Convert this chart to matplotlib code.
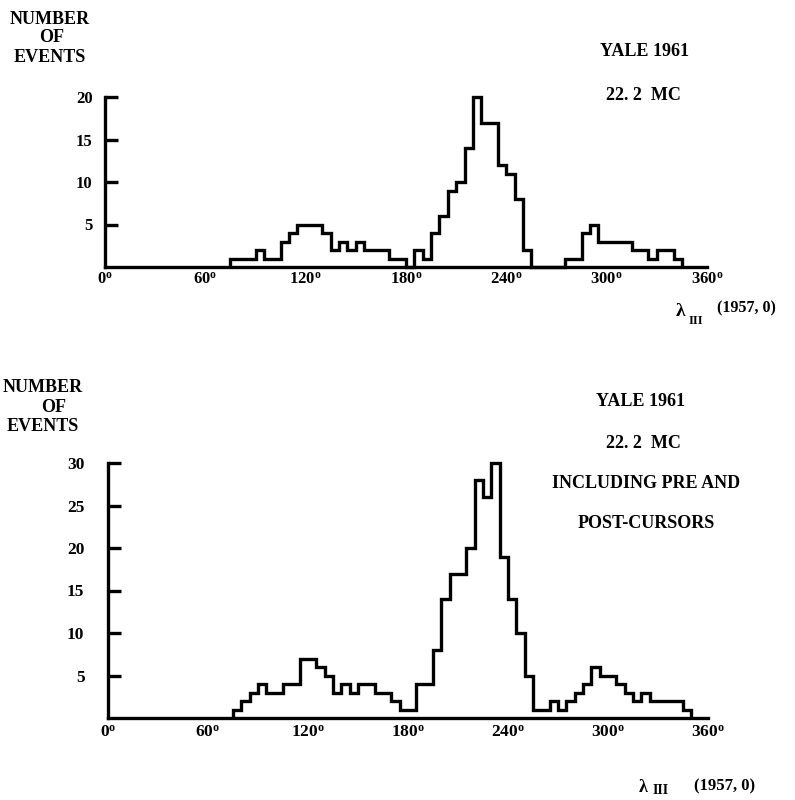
import matplotlib
matplotlib.use('Agg')
import matplotlib.pyplot as plt

plt.rcParams['font.family'] = ['Liberation Serif', 'DejaVu Serif']
plt.rcParams['font.weight'] = 'bold'
plt.rcParams['mathtext.fontset'] = 'custom'
plt.rcParams['mathtext.rm'] = 'Liberation Serif:bold'
plt.rcParams['mathtext.default'] = 'rm'

# Data: step edges (degrees) and event counts per step
top_edges = [75, 90, 95, 105, 110, 115, 130, 135, 140, 145, 150, 155, 170, 180, 185,
             190, 195, 200, 205, 210, 215, 220, 225, 235, 240, 245, 250, 255, 275,
             285, 290, 295, 315, 325, 330, 340, 345]
top_counts = [1, 2, 1, 3, 4, 5, 4, 2, 3, 2, 3, 2, 1, 0, 2, 1, 4, 6, 9, 10, 14, 20,
              17, 12, 11, 8, 2, 0, 1, 4, 5, 3, 2, 1, 2, 1]

bot_edges = [75, 80, 85, 90, 95, 105, 115, 125, 130, 135, 140, 145, 150, 160, 170,
             175, 185, 195, 200, 205, 215, 220, 225, 230, 235, 240, 245, 250, 255,
             265, 270, 275, 280, 285, 290, 295, 305, 310, 315, 320, 325, 345, 350]
bot_counts = [1, 2, 3, 4, 3, 4, 7, 6, 5, 3, 4, 3, 4, 3, 2, 1, 4, 8, 14, 17, 20, 28,
              26, 30, 19, 14, 10, 5, 1, 2, 1, 2, 3, 4, 6, 5, 4, 3, 2, 3, 2, 1]

x_labels = [0, 60, 120, 180, 240, 300, 360]
x_marks = [60, 120, 180, 240, 360]
top_yticks = [5, 10, 15, 20]
bot_yticks = [5, 10, 15, 20, 25, 30]

W, H = 795, 800
fig = plt.figure(figsize=(W / 100, H / 100), dpi=100)

lw = 2.4


def panel(rect, edges, counts, ymax, yticks, ypad, xpad, fs):
    ax = fig.add_axes(rect)
    ax.stairs(counts, edges, baseline=0, color='black', linewidth=lw, clip_on=False)
    ax.set_xlim(0, 360)
    ax.set_ylim(0, ymax)
    for s in ['top', 'right']:
        ax.spines[s].set_visible(False)
    for s in ['left', 'bottom']:
        ax.spines[s].set_linewidth(lw)
    ax.set_yticks(yticks)
    ax.set_yticklabels([str(v) for v in yticks], fontsize=fs, fontweight='bold')
    ax.tick_params(axis='y', direction='in', length=9, width=lw, pad=ypad)
    ax.set_xticks(x_labels)
    ax.set_xticklabels([f'{v}$^{{o}}$' for v in x_labels], fontsize=fs, fontweight='bold')
    ax.tick_params(axis='x', which='major', length=0, pad=xpad)
    ax.set_xticks(x_marks, minor=True)
    ax.tick_params(axis='x', which='minor', direction='in', length=12, width=1.8)
    return ax


ax1 = panel([105 / W, 1 - 267 / H, 602 / W, 170 / H], top_edges, top_counts,
            20, top_yticks, 9, 3, 12)
ax2 = panel([108 / W, 1 - 718 / H, 600 / W, 255 / H], bot_edges, bot_counts,
            30, bot_yticks, 17, 5, 12.5)


def ftext(x, y, s, fs=13, **kw):
    fig.text(x / W, 1 - y / H, s, fontsize=fs, fontweight='bold',
             ha=kw.pop('ha', 'center'), va=kw.pop('va', 'center'), **kw)


# top panel annotations
ftext(50, 19, 'NUMBER')
ftext(52, 38, 'OF')
ftext(50, 57, 'EVENTS')
ftext(645, 52, 'YALE 1961')
ftext(643, 95, '22. 2  MC')
ftext(681, 312, 'λ', fs=14)
ftext(696, 321, 'III', fs=9)
ftext(746, 308, '(1957, 0)', fs=11.5)

# bottom panel annotations
ftext(43, 387, 'NUMBER')
ftext(54, 407, 'OF')
ftext(43, 427, 'EVENTS')
ftext(641, 402, 'YALE 1961')
ftext(643, 443, '22. 2  MC')
ftext(646, 483, 'INCLUDING PRE AND')
ftext(646, 523, 'POST-CURSORS')
ftext(643, 788, 'λ', fs=13)
ftext(661, 790, 'III', fs=10)
ftext(725, 786, '(1957, 0)', fs=12)

fig.savefig('out.png', dpi=100)
